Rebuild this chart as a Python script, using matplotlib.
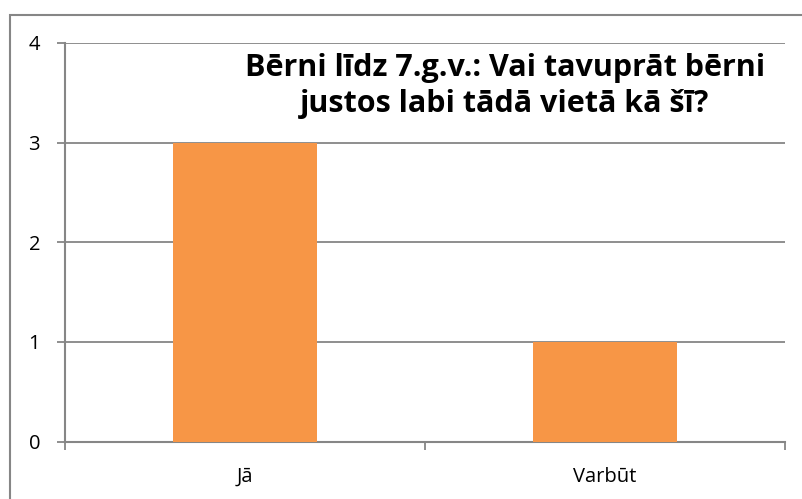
import matplotlib.pyplot as plt
from matplotlib.patches import Rectangle

# Dati
kategorijas = ['Jā', 'Varbūt']
vertibas = [3, 1]
y_ticks = [0, 1, 2, 3, 4]
virsraksts = 'Bērni līdz 7.g.v.: Vai tavuprāt bērni\njustos labi tādā vietā kā šī?'

W, H = 803, 499
fig = plt.figure(figsize=(W / 100, H / 100), dpi=100)
ax = fig.add_axes([65 / W, (H - 441.5) / H, 720 / W, (441.5 - 43) / H])

grid_col = '#868686'
x = range(len(kategorijas))
ax.bar(x, vertibas, width=0.4, color='#F79646', zorder=3)

ax.set_xlim(-0.5, 1.5)
ax.set_ylim(0, 4)
ax.set_yticks(y_ticks)
ax.set_yticklabels([str(t) for t in y_ticks], family='Open Sans')
ax.set_xticks(list(x))
ax.set_xticklabels(kategorijas, family='Open Sans')
ax.set_xticks([-0.5, 0.5, 1.5], minor=True)

for y in y_ticks[1:]:
    ax.axhline(y, color=grid_col, lw=1.3, zorder=1)

for s in ['top', 'right']:
    ax.spines[s].set_visible(False)
for s in ['left', 'bottom']:
    ax.spines[s].set_color(grid_col)
    ax.spines[s].set_linewidth(1.5)

ax.tick_params(axis='y', length=6, width=1.3, color=grid_col, labelsize=14.5, pad=12)
ax.tick_params(axis='x', which='major', length=0, labelsize=14.5, pad=18)
ax.tick_params(axis='x', which='minor', length=6, width=1.3, color=grid_col)

fig.text(505 / W, 1 - 86 / H, virsraksts, ha='center', va='center',
         fontsize=22, fontweight='bold', family='Open Sans', linespacing=1.3)

# rāmis ap attēlu
fig.patches.append(Rectangle((10 / W, -0.1), 1.2, 1 - 15 / H + 0.1,
                             transform=fig.transFigure, fill=False,
                             edgecolor='#868686', lw=1.5))

fig.savefig('out.png', dpi=100)
